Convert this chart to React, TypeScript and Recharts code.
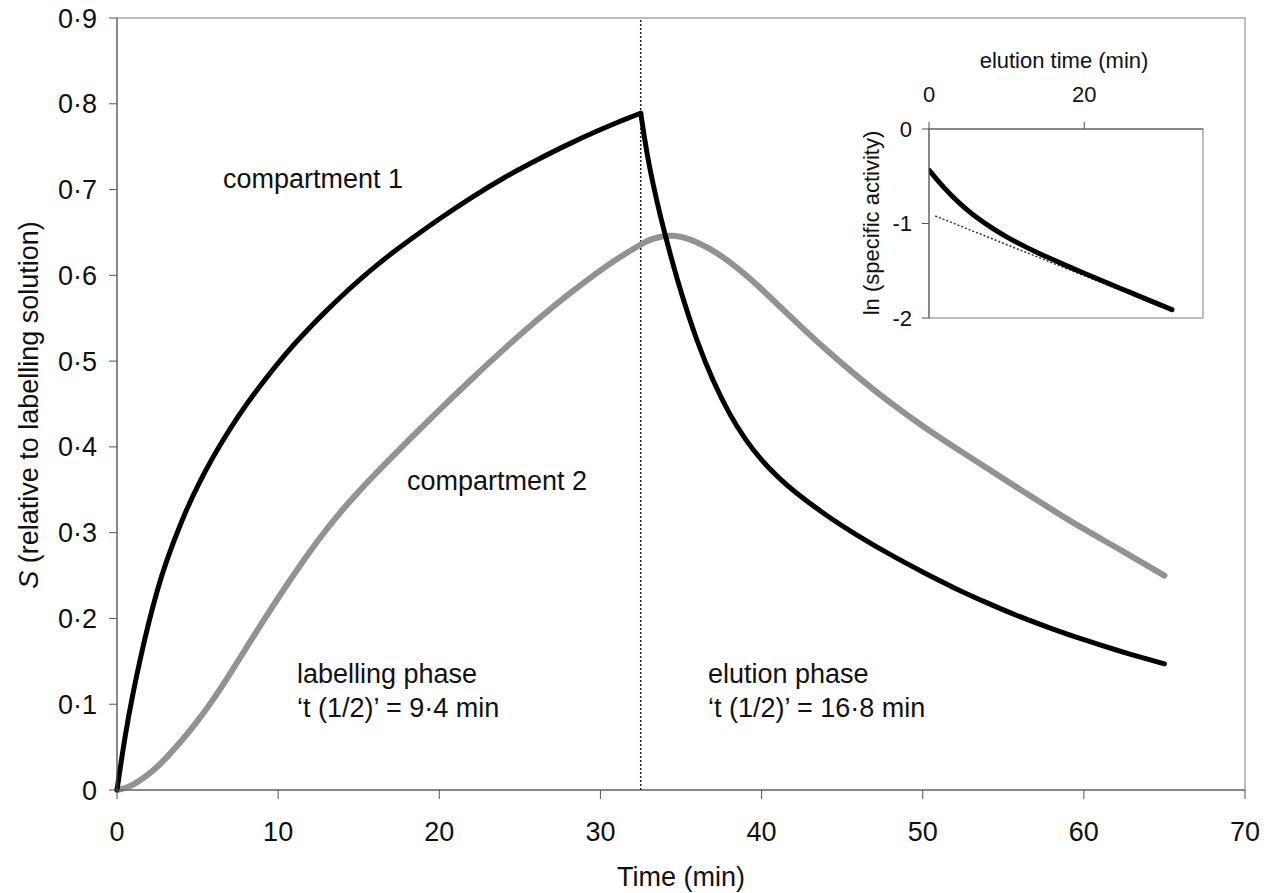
import React from 'react';
import { LineChart, Line, XAxis, YAxis, ReferenceLine, ReferenceArea } from 'recharts';

// ---- main chart data (time in min, S relative to labelling solution) ----
const timeMin = [0, 0.5, 1, 1.5, 2, 2.5, 3, 4, 5, 6, 7, 8, 9, 10, 11, 12, 13, 14, 15, 16, 17, 18, 20, 22, 24, 26, 28, 30, 31, 32.5, 32.75, 33, 33.5, 34, 34.5, 35, 36, 37, 38, 39, 40, 41, 42, 44, 46, 48, 50, 52, 54, 56, 58, 60, 62, 65];
const compartment1 = [0, 0.064, 0.114, 0.158, 0.198, 0.233, 0.264, 0.314, 0.355, 0.39, 0.421, 0.449, 0.474, 0.498, 0.52, 0.54, 0.559, 0.577, 0.594, 0.61, 0.625, 0.639, 0.666, 0.691, 0.714, 0.734, 0.753, 0.77, 0.778, 0.789, 0.758, 0.73, 0.686, 0.648, 0.613, 0.58, 0.522, 0.476, 0.438, 0.408, 0.384, 0.365, 0.348, 0.32, 0.296, 0.274, 0.254, 0.235, 0.218, 0.202, 0.188, 0.175, 0.163, 0.147];
const compartment2 = [0, 0.002, 0.006, 0.012, 0.019, 0.027, 0.036, 0.057, 0.08, 0.106, 0.135, 0.165, 0.195, 0.224, 0.252, 0.279, 0.304, 0.327, 0.348, 0.368, 0.387, 0.406, 0.443, 0.479, 0.514, 0.547, 0.578, 0.606, 0.619, 0.636, 0.6385, 0.641, 0.644, 0.646, 0.6465, 0.6455, 0.639, 0.629, 0.616, 0.601, 0.584, 0.566, 0.548, 0.513, 0.481, 0.451, 0.424, 0.399, 0.375, 0.351, 0.327, 0.304, 0.283, 0.25];
const labellingEnd = 32.5;
const mainXTicks = [0, 10, 20, 30, 40, 50, 60, 70];
const mainYTicks = [0, 0.1, 0.2, 0.3, 0.4, 0.5, 0.6, 0.7, 0.8, 0.9];

// ---- inset data (elution time in min, ln specific activity) ----
const elutionTime = [0, 1, 2, 3, 4, 5, 6, 8, 10, 12, 14, 16, 18, 20, 22, 24, 26, 28, 30, 31.3];
const lnActivity = [-0.435, -0.535, -0.627, -0.712, -0.79, -0.862, -0.928, -1.043, -1.143, -1.23, -1.31, -1.385, -1.457, -1.527, -1.596, -1.664, -1.732, -1.8, -1.868, -1.912];
const fitTime = [0.8, 31.3];
const fitLn = [-0.92, -1.925];
const insetXTicks = [0, 20];
const insetYTicks = [-2, -1, 0];

const mainData = timeMin.map((t, i) => ({
  t,
  c1Rise: t <= labellingEnd ? compartment1[i] : null,
  c1Fall: t >= labellingEnd ? compartment1[i] : null,
  c2: compartment2[i],
}));
const insetCurve = elutionTime.map((x, i) => ({ x, y: lnActivity[i] }));
const insetFit = fitTime.map((x, i) => ({ x, y: fitLn[i] }));

const FONT = '"Liberation Sans", Arial, Helvetica, sans-serif';
const fmtMain = (v: number) => (v === 0 ? '0' : v.toFixed(1).replace('.', '\u00B7'));

export default function App() {
  return (
    <div style={{ position: 'absolute', left: 0, top: 0, width: 1273, height: 893, background: '#fff', fontFamily: FONT }}>
      <div style={{ position: 'absolute', left: 0, top: 0 }}>
        <LineChart width={1273} height={893} data={mainData} margin={{ top: 18, right: 28, bottom: 0, left: 0 }}>
          <ReferenceArea x1={0} x2={70} y1={0} y2={0.9} fill="none" stroke="#a8a8a8" strokeWidth={1.5} ifOverflow="visible" />
          <XAxis
            dataKey="t"
            type="number"
            domain={[0, 70]}
            ticks={mainXTicks}
            interval={0}
            height={103}
            tickSize={9}
            tickMargin={23}
            stroke="#555"
            tick={{ fill: '#111', fontSize: 27, fontFamily: FONT }}
          />
          <YAxis
            type="number"
            domain={[0, 0.9]}
            ticks={mainYTicks}
            interval={0}
            width={117}
            tickSize={8}
            tickMargin={12}
            stroke="#555"
            tickFormatter={fmtMain}
            tick={{ fill: '#111', fontSize: 27, fontFamily: FONT }}
          />
          <ReferenceLine x={labellingEnd} stroke="#222" strokeDasharray="2 2" strokeWidth={1.5} />
          <Line dataKey="c2" type="basis" stroke="#929292" strokeWidth={6} dot={false} strokeLinecap="round" strokeLinejoin="round" isAnimationActive={false} />
          <Line dataKey="c1Rise" type="basis" stroke="#000" strokeWidth={5} dot={false} strokeLinecap="round" strokeLinejoin="round" isAnimationActive={false} />
          <Line dataKey="c1Fall" type="basis" stroke="#000" strokeWidth={5} dot={false} strokeLinecap="round" strokeLinejoin="round" isAnimationActive={false} />
        </LineChart>
      </div>

      <div style={{ position: 'absolute', left: 840, top: 30 }}>
        <LineChart width={380} height={310} margin={{ top: 59, right: 17, bottom: 22, left: 39 }}>
          <ReferenceArea x1={0} x2={35.3} y1={-2} y2={0} fill="none" stroke="#a8a8a8" strokeWidth={1.5} ifOverflow="visible" />
          <XAxis
            dataKey="x"
            type="number"
            orientation="top"
            domain={[0, 35.3]}
            ticks={insetXTicks}
            interval={0}
            height={40}
            tickSize={7}
            tickMargin={20}
            stroke="#555"
            allowDataOverflow
            tick={{ fill: '#111', fontSize: 22, fontFamily: FONT }}
          />
          <YAxis
            type="number"
            domain={[-2, 0]}
            ticks={insetYTicks}
            interval={0}
            width={50}
            tickSize={7}
            tickMargin={10}
            stroke="#555"
            tick={{ fill: '#111', fontSize: 22, fontFamily: FONT }}
          />
          <Line data={insetFit} dataKey="y" type="linear" stroke="#333" strokeWidth={1.5} strokeDasharray="2 2" dot={false} isAnimationActive={false} />
          <Line data={insetCurve} dataKey="y" type="basis" stroke="#000" strokeWidth={5} dot={false} strokeLinecap="round" isAnimationActive={false} />
        </LineChart>
      </div>

      <svg width={1273} height={893} style={{ position: 'absolute', left: 0, top: 0, pointerEvents: 'none' }} fontFamily={FONT} fill="#111">
        <text transform="translate(38,405) rotate(-90)" textAnchor="middle" fontSize={27}>
          <tspan fontStyle="italic">S</tspan> (relative to labelling solution)
        </text>
        <text x={681} y={886} textAnchor="middle" fontSize={27}>Time (min)</text>
        <text x={223} y={188} fontSize={27}>compartment 1</text>
        <text x={407} y={490} fontSize={27}>compartment 2</text>
        <text x={297} y={683} fontSize={27}>labelling phase</text>
        <text x={297} y={717} fontSize={27}>{'\u2018t (1/2)\u2019 = 9\u00B74 min'}</text>
        <text x={708} y={683} fontSize={27}>elution phase</text>
        <text x={708} y={717} fontSize={27}>{'\u2018t (1/2)\u2019 = 16\u00B78 min'}</text>
        <text x={1064} y={68} textAnchor="middle" fontSize={22}>elution time (min)</text>
        <text transform="translate(879,223) rotate(-90)" textAnchor="middle" fontSize={22}>ln (specific activity)</text>
      </svg>
    </div>
  );
}
